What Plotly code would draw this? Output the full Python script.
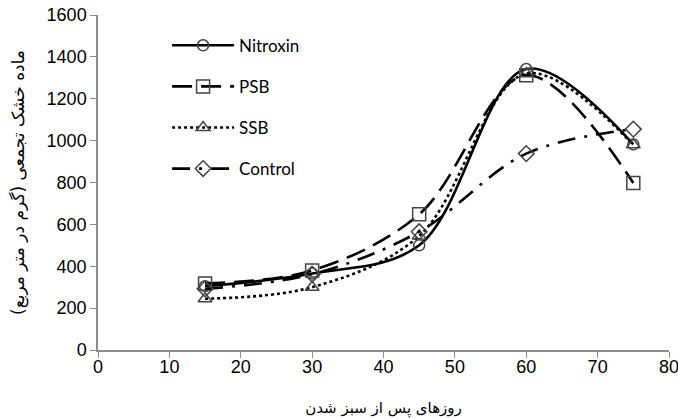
import plotly.graph_objects as go

days = [15, 30, 45, 60, 75]
nitroxin = [305, 365, 500, 1342, 982]
psb = [318, 380, 648, 1312, 798]
ssb = [245, 300, 545, 1320, 980]
control = [292, 362, 565, 938, 1055]

series_names = ["Nitroxin", "PSB", "SSB", "Control"]
series_values = [nitroxin, psb, ssb, control]
dashes = ["solid", "20px,9px", "dot", "18px,9px,3px,9px"]
symbols = ["circle-open", "square-open", "triangle-up-open", "diamond-open"]
msizes = [11, 13, 12, 12]

fig = go.Figure()
for i, (nm, vals) in enumerate(zip(series_names, series_values)):
    fig.add_trace(go.Scatter(
        x=days, y=vals, name=nm, mode="lines+markers",
        legendgroup=nm,
        line=dict(color="black", width=2.6, dash=dashes[i], shape="spline", smoothing=1.0),
        marker=dict(symbol=symbols[i], size=msizes[i], color="#444444",
                    line=dict(color="#444444", width=1.5)),
    ))

tickfont = dict(family="Liberation Sans, Arial", size=18, color="black")

fig.update_layout(
    width=678, height=419,
    margin=dict(l=98, r=9, t=15, b=69),
    plot_bgcolor="white", paper_bgcolor="white",
    showlegend=True,
    legend=dict(
        x=0.121, y=0.962, xanchor="left", yanchor="top",
        bgcolor="rgba(0,0,0,0)",
        font=dict(family="Lato, Open Sans", size=17, color="black"),
        traceorder="grouped", tracegroupgap=16,
        itemwidth=62,
    ),
    xaxis=dict(
        range=[0, 80], tickvals=[0, 10, 20, 30, 40, 50, 60, 70, 80],
        showgrid=False, zeroline=False, automargin=False,
        showline=True, linecolor="#8c8c8c", linewidth=1.5,
        ticks="outside", ticklen=6, tickcolor="#8c8c8c",
        tickfont=tickfont, ticklabeloverflow="allow", ticklabelstandoff=-6,
        title=dict(text="روزهای پس از سبز شدن", standoff=26,
                   font=dict(family="DejaVu Sans", size=15, color="black")),
    ),
    yaxis=dict(
        range=[0, 1600], tickvals=[0, 200, 400, 600, 800, 1000, 1200, 1400, 1600],
        showgrid=False, zeroline=False, automargin=False,
        showline=True, linecolor="#8c8c8c", linewidth=1.5,
        ticks="outside", ticklen=6, tickcolor="#8c8c8c",
        tickfont=tickfont,
        title=dict(text="ماده خشک تجمعی (گرم در متر مربع)", standoff=18,
                   font=dict(family="DejaVu Sans", size=17, color="black")),
    ),
)

fig.write_html("out.html")
